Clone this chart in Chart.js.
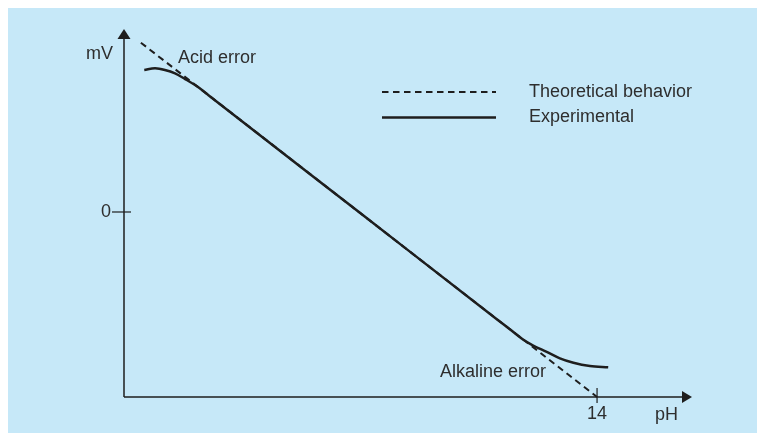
<!DOCTYPE html>
<html>
<head>
<meta charset="utf-8">
<script src="https://cdn.jsdelivr.net/npm/chart.js@4.4.1/dist/chart.umd.min.js"></script>
<style>
  html, body { margin: 0; padding: 0; background: #fff; }
  #wrap { width: 757px; height: 433px; }
</style>
</head>
<body>
<div id="wrap"><canvas id="phChart" width="757" height="433"></canvas></div>
<script>
// pH electrode response: ideal Nernst slope vs. measured curve
const theoPH = [0.5, 14];
const theoMV = [379, -414.1];

const expPH = [0.60, 0.92, 1.21, 1.51, 1.80, 2.2, 2.5, 7, 11.1, 11.4, 11.82, 12.11, 12.51, 12.9, 13.3, 13.79, 14.33];
const expMV = [318, 321.5, 318, 310.5, 298, 279.1, 261.5, -2.9, -243.8, -261.4, -286.1, -299, -313, -327.5, -337.3, -344.7, -347.6];

const seriesNames = ["Theoretical behavior", "Experimental"];
const xTicks = [14];
const yTicks = [0];
const axisTitles = { x: "pH", y: "mV" };
const notes = [
  { text: "Acid error", pH: 1.6, mV: 345 },
  { text: "Alkaline error", pH: 9.35, mV: -359 }
];

const ink = "#1e1e1e";
const textInk = "#2e2e2e";
const font = "18px 'Liberation Sans', Arial, sans-serif";

const toPoints = (xs, ys) => xs.map((x, i) => ({ x: x, y: ys[i] }));

// light blue panel behind everything
const panelBg = {
  id: "panelBg",
  beforeDraw(chart) {
    const c = chart.ctx;
    c.save();
    c.fillStyle = "#c6e8f8";
    c.fillRect(8, 8, chart.width - 8, chart.height - 8);
    c.restore();
  }
};

// axes with arrow heads, crossing ticks, labels and legend
const decor = {
  id: "decor",
  afterDatasetsDraw(chart) {
    const c = chart.ctx;
    const xs = chart.scales.x, ys = chart.scales.y;
    const a = chart.chartArea;
    const x0 = xs.getPixelForValue(0);
    const yb = ys.getPixelForValue(ys.min);
    c.save();
    c.strokeStyle = ink;
    c.fillStyle = ink;
    c.lineWidth = 1.5;
    c.beginPath();
    c.moveTo(x0, yb);
    c.lineTo(x0, a.top + 8);
    c.moveTo(x0, yb);
    c.lineTo(a.right - 8, yb);
    c.stroke();
    // arrow heads
    c.beginPath();
    c.moveTo(x0, a.top);
    c.lineTo(x0 - 6.5, a.top + 10);
    c.lineTo(x0 + 6.5, a.top + 10);
    c.closePath();
    c.fill();
    c.beginPath();
    c.moveTo(a.right, yb);
    c.lineTo(a.right - 10, yb - 6);
    c.lineTo(a.right - 10, yb + 6);
    c.closePath();
    c.fill();

    c.lineWidth = 1.2;
    c.font = font;
    c.fillStyle = textInk;
    yTicks.forEach(v => {
      const y = ys.getPixelForValue(v);
      c.beginPath();
      c.moveTo(x0 - 12, y);
      c.lineTo(x0 + 7, y);
      c.stroke();
      c.textAlign = "right";
      c.textBaseline = "middle";
      c.fillText(String(v), x0 - 13, y);
    });
    xTicks.forEach(v => {
      const x = xs.getPixelForValue(v);
      c.beginPath();
      c.moveTo(x, yb - 9);
      c.lineTo(x, yb + 6);
      c.stroke();
      c.textAlign = "center";
      c.textBaseline = "middle";
      c.fillText(String(v), x, yb + 17);
    });

    c.textBaseline = "middle";
    c.textAlign = "right";
    c.fillText(axisTitles.y, x0 - 11, a.top + 25);
    c.textAlign = "left";
    c.fillText(axisTitles.x, a.right - 37, yb + 18);

    notes.forEach(n => {
      c.fillText(n.text, xs.getPixelForValue(n.pH), ys.getPixelForValue(n.mV));
    });

    // legend
    chart.data.datasets.forEach((ds, i) => {
      const y = 92 + i * 25.5;
      c.save();
      c.strokeStyle = ds.borderColor;
      c.lineWidth = ds.borderWidth;
      c.setLineDash(ds.borderDash || []);
      c.beginPath();
      c.moveTo(382, y);
      c.lineTo(496, y);
      c.stroke();
      c.restore();
      c.fillText(ds.label, 529, y);
    });
    c.restore();
  }
};

new Chart(document.getElementById("phChart"), {
  type: "line",
  data: {
    datasets: [
      {
        label: seriesNames[0],
        data: toPoints(theoPH, theoMV),
        borderColor: ink,
        borderWidth: 2,
        borderDash: [6.5, 4.5],
        pointRadius: 0,
        fill: false
      },
      {
        label: seriesNames[1],
        data: toPoints(expPH, expMV),
        borderColor: ink,
        borderWidth: 2.5,
        cubicInterpolationMode: "monotone",
        pointRadius: 0,
        fill: false
      }
    ]
  },
  options: {
    responsive: false,
    animation: false,
    clip: false,
    layout: { padding: { left: 124, top: 29, right: 65, bottom: 36 } },
    scales: {
      x: { type: "linear", min: 0, max: 16.81, display: false },
      y: { type: "linear", min: -414.1, max: 409.6, display: false }
    },
    plugins: {
      legend: { display: false },
      tooltip: { enabled: false }
    }
  },
  plugins: [panelBg, decor]
});
</script>
</body>
</html>
